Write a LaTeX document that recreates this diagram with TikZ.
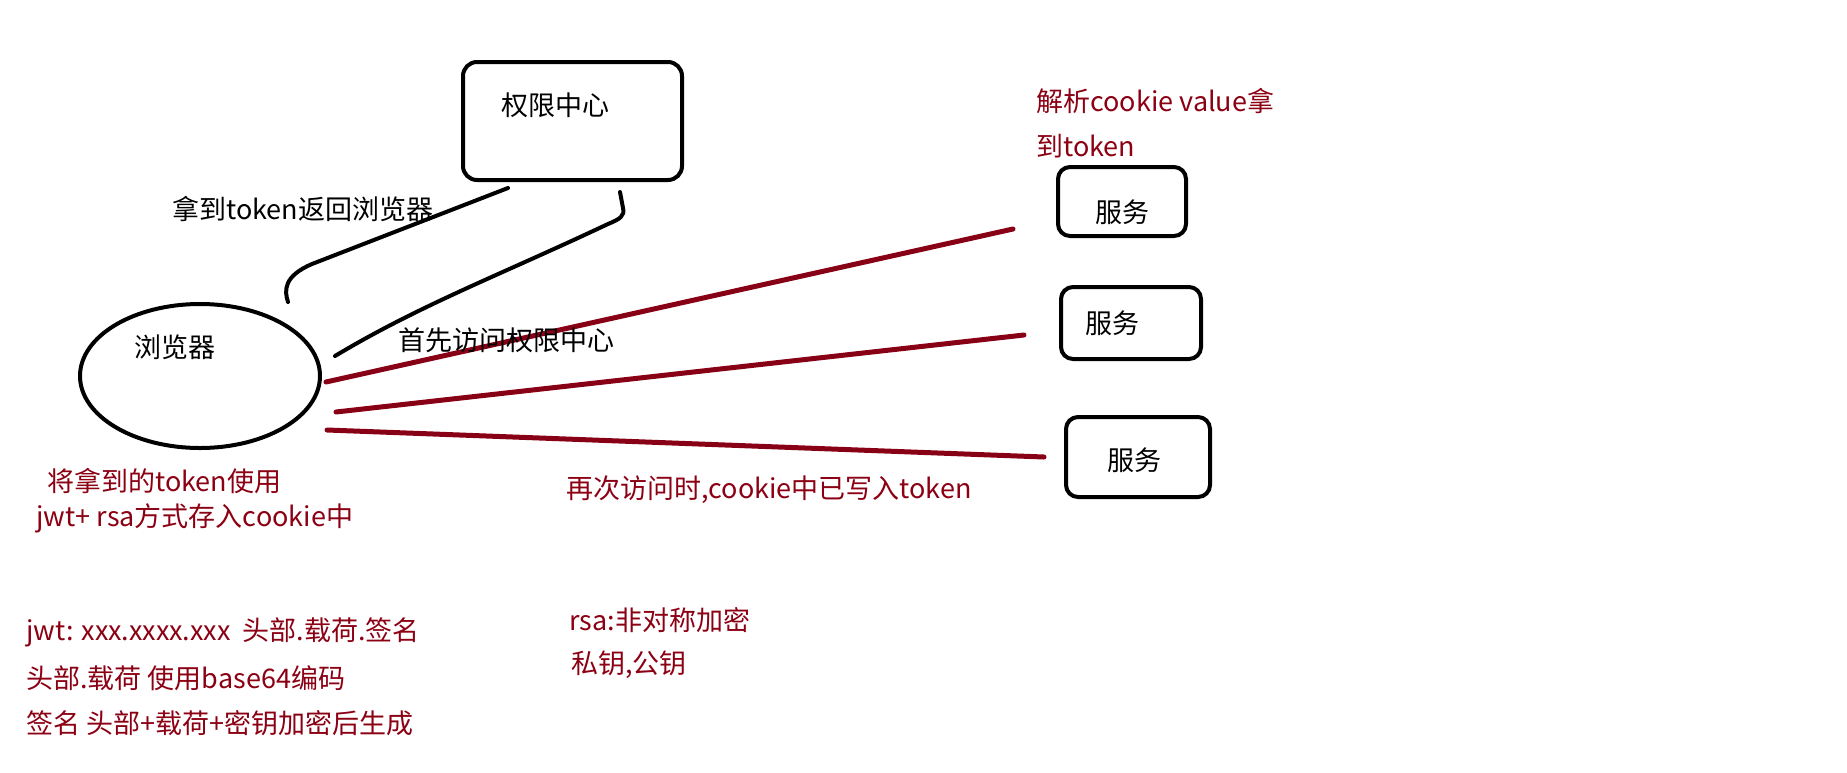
\documentclass[tikz,border=0pt]{standalone}
\usepackage{fontspec}
\setmainfont{Noto Sans CJK SC}
\usetikzlibrary{shapes.geometric}
\definecolor{dred}{RGB}{136,0,21}
\definecolor{tred}{RGB}{140,0,20}
\tikzset{
  box/.style={draw=black, line width=2pt, rounded corners=7pt, inner sep=0pt},
  txt/.style={anchor=west, inner sep=0pt, font=\fontsize{13.5pt}{16pt}\selectfont},
  rtxt/.style={txt, text=tred},
  bline/.style={draw=black, line width=2pt, line cap=round, line join=round},
  rline/.style={draw=dred, line width=2.5pt, line cap=round},
}
\begin{document}
\begin{tikzpicture}[x=0.5pt, y=-0.5pt]
\useasboundingbox[fill=white] (0,0) rectangle (1847,772);
% nodes
\node[box, minimum width=109.5pt, minimum height=59pt] (auth) at (572.5,121) {};
\node[txt] (authT) at (501,105) {权限中心};
\node[draw=black, line width=2pt, ellipse, inner sep=0pt, minimum width=120pt, minimum height=72pt] (browser) at (200,376) {};
\node[txt] (browserT) at (134,347) {浏览器};
\node[box, rounded corners=6pt, minimum width=64pt, minimum height=34.5pt] (svc1) at (1122,201.5) {};
\node[txt, anchor=center] (svc1T) at (1122,212) {服务};
\node[box, rounded corners=6pt, minimum width=70pt, minimum height=36pt] (svc2) at (1131,323) {};
\node[txt, anchor=center] (svc2T) at (1112,323) {服务};
\node[box, rounded corners=6pt, minimum width=72pt, minimum height=40pt] (svc3) at (1138,457) {};
\node[txt, anchor=center] (svc3T) at (1134,460) {服务};
% connector ends
\coordinate (a1) at (508,188);
\coordinate (a2) at (288,302);
\coordinate (b1) at (620,192);
\coordinate (b2) at (335,356);
\coordinate (r1a) at (326,382);
\coordinate (r1b) at (1013,229);
\coordinate (r2a) at (336,412);
\coordinate (r2b) at (1024,335);
\coordinate (r3a) at (327,430);
\coordinate (r3b) at (1044,457);
% black connectors
\draw[bline] (a1) -- (312,264) .. controls (284,276) and (284,290) .. (a2);
\draw[bline] (b1) -- (623,208) .. controls (625,216) and (620,219) .. (608,224)
  .. controls (500,275) and (420,305) .. (b2);
% red connectors
\draw[rline] (r1a) -- (r1b);
\draw[rline] (r2a) -- (r2b);
\draw[rline] (r3a) -- (r3b);
% labels
\node[txt] (l1) at (172,209) {拿到token返回浏览器};
\node[txt] (l2) at (398,340) {首先访问权限中心};
\node[rtxt] (l3) at (1036,101) {解析cookie value拿};
\node[rtxt] (l4) at (1036,146) {到token};
\node[rtxt] (l5) at (47,481) {将拿到的token使用};
\node[rtxt] (l6) at (36,518) {jwt+ rsa方式存入cookie中};
\node[rtxt] (l7) at (566,490) {再次访问时,cookie中已写入token};
\node[rtxt] (l8) at (26,632) {jwt: xxx.xxxx.xxx\ \ 头部.载荷.签名};
\node[rtxt] (l9) at (26,678) {头部.载荷 使用base64编码};
\node[rtxt] (l10) at (26,723) {签名 头部+载荷+密钥加密后生成};
\node[rtxt] (l11) at (569,620) {rsa:非对称加密};
\node[rtxt] (l12) at (571,665) {私钥,公钥};
\end{tikzpicture}
\end{document}
